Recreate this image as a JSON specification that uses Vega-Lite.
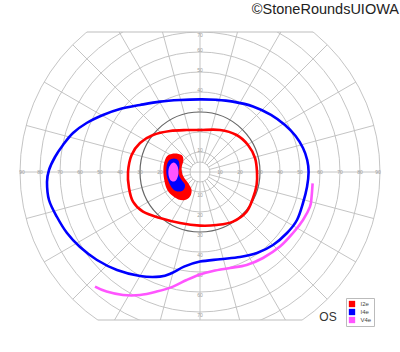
{
  "$schema": "https://vega.github.io/schema/vega-lite/v6.json",
  "width": 400,
  "height": 288,
  "padding": {"top": 32, "bottom": 32, "left": 0, "right": 0},
  "autosize": {"type": "none"},
  "config": {"view": {"stroke": null}, "font": "Liberation Sans"},
  "title": {"text": "©StoneRoundsUIOWA", "anchor": "end", "fontSize": 14.5, "fontWeight": "normal", "color": "#222", "offset": 14, "dx": -1, "font": "Liberation Sans"},
  "datasets": {
    "rings": [{"x":0,"y":0,"r":5},{"x":0,"y":0,"r":10},{"x":0,"y":0,"r":20},{"x":0,"y":0,"r":40},{"x":0,"y":0,"r":50},{"x":0,"y":0,"r":60},{"x":0,"y":0,"r":70},{"x":0,"y":0,"r":80},{"x":0,"y":0,"r":90}],
    "dark": [{"x":0,"y":0,"r":30}],
    "spokes": [
      {"x":-90,"y":0,"x2":90,"y2":0},{"x":0,"y":-90,"x2":0,"y2":90},
      {"x":4.83,"y":1.29,"x2":86.93,"y2":23.29},{"x":4.33,"y":2.5,"x2":77.94,"y2":45},{"x":3.54,"y":3.54,"x2":63.64,"y2":63.64},{"x":2.5,"y":4.33,"x2":45,"y2":77.94},{"x":1.29,"y":4.83,"x2":23.29,"y2":86.93},
      {"x":-4.83,"y":1.29,"x2":-86.93,"y2":23.29},{"x":-4.33,"y":2.5,"x2":-77.94,"y2":45},{"x":-3.54,"y":3.54,"x2":-63.64,"y2":63.64},{"x":-2.5,"y":4.33,"x2":-45,"y2":77.94},{"x":-1.29,"y":4.83,"x2":-23.29,"y2":86.93},
      {"x":-4.83,"y":-1.29,"x2":-86.93,"y2":-23.29},{"x":-4.33,"y":-2.5,"x2":-77.94,"y2":-45},{"x":-3.54,"y":-3.54,"x2":-63.64,"y2":-63.64},{"x":-2.5,"y":-4.33,"x2":-45,"y2":-77.94},{"x":-1.29,"y":-4.83,"x2":-23.29,"y2":-86.93},
      {"x":4.83,"y":-1.29,"x2":86.93,"y2":-23.29},{"x":4.33,"y":-2.5,"x2":77.94,"y2":-45},{"x":3.54,"y":-3.54,"x2":63.64,"y2":-63.64},{"x":2.5,"y":-4.33,"x2":45,"y2":-77.94},{"x":1.29,"y":-4.83,"x2":23.29,"y2":-86.93}
    ],
    "borders": [{"x":-56.6,"y":70,"x2":56.6,"y2":70},{"x":-51.2,"y":-74,"x2":51.2,"y2":-74}],
    "labels": [
      {"x":10,"y":0,"t":"10"},{"x":20,"y":0,"t":"20"},{"x":30,"y":0,"t":"30"},{"x":40,"y":0,"t":"40"},{"x":50,"y":0,"t":"50"},{"x":60,"y":0,"t":"60"},{"x":70,"y":0,"t":"70"},{"x":80,"y":0,"t":"80"},{"x":89,"y":0,"t":"90"},
      {"x":-10,"y":0,"t":"10"},{"x":-20,"y":0,"t":"20"},{"x":-30,"y":0,"t":"30"},{"x":-40,"y":0,"t":"40"},{"x":-50,"y":0,"t":"50"},{"x":-60,"y":0,"t":"60"},{"x":-70,"y":0,"t":"70"},{"x":-80,"y":0,"t":"80"},{"x":-89,"y":0,"t":"90"},
      {"x":0,"y":11,"t":"10"},{"x":0,"y":21,"t":"20"},{"x":0,"y":31,"t":"30"},{"x":0,"y":41,"t":"40"},{"x":0,"y":51,"t":"50"},{"x":0,"y":61,"t":"60"},{"x":0,"y":68.5,"t":"70"},
      {"x":0,"y":-11.5,"t":"10"},{"x":0,"y":-21.5,"t":"20"},{"x":0,"y":-31.5,"t":"30"},{"x":0,"y":-41.5,"t":"40"},{"x":0,"y":-51.5,"t":"50"},{"x":0,"y":-61.5,"t":"60"},{"x":0,"y":-71.5,"t":"70"}
    ],
    "scotoma": [
      {"test":"I2e","i":0,"x":-12.5,"y":9.3},{"test":"I2e","i":1,"x":-9.2,"y":8.5},{"test":"I2e","i":2,"x":-8.3,"y":6},{"test":"I2e","i":3,"x":-9.2,"y":1.8},{"test":"I2e","i":4,"x":-8.3,"y":-2.3},{"test":"I2e","i":5,"x":-5.8,"y":-5.7},{"test":"I2e","i":6,"x":-4.2,"y":-9},{"test":"I2e","i":7,"x":-5,"y":-12.3},{"test":"I2e","i":8,"x":-7.5,"y":-14},{"test":"I2e","i":9,"x":-10.8,"y":-13.7},{"test":"I2e","i":10,"x":-14.2,"y":-11.5},{"test":"I2e","i":11,"x":-16.7,"y":-8.2},{"test":"I2e","i":12,"x":-18,"y":-3.2},{"test":"I2e","i":13,"x":-18.3,"y":1.8},{"test":"I2e","i":14,"x":-17.5,"y":6},{"test":"I2e","i":15,"x":-15.8,"y":8.5},
      {"test":"I4e","i":0,"x":-13,"y":6.8},{"test":"I4e","i":1,"x":-10.8,"y":5.7},{"test":"I4e","i":2,"x":-10.3,"y":2.7},{"test":"I4e","i":3,"x":-10.8,"y":-0.7},{"test":"I4e","i":4,"x":-9.2,"y":-4},{"test":"I4e","i":5,"x":-7.5,"y":-6.5},{"test":"I4e","i":6,"x":-8.3,"y":-9},{"test":"I4e","i":7,"x":-10.8,"y":-9.8},{"test":"I4e","i":8,"x":-13.3,"y":-8.7},{"test":"I4e","i":9,"x":-15.3,"y":-5.7},{"test":"I4e","i":10,"x":-16.7,"y":-1.5},{"test":"I4e","i":11,"x":-16.7,"y":2.7},{"test":"I4e","i":12,"x":-15.5,"y":5.7},
      {"test":"V4e","i":0,"x":-13.3,"y":4.7},{"test":"V4e","i":1,"x":-11.3,"y":3},{"test":"V4e","i":2,"x":-10.8,"y":-0.7},{"test":"V4e","i":3,"x":-11.7,"y":-3.7},{"test":"V4e","i":4,"x":-13.3,"y":-4.8},{"test":"V4e","i":5,"x":-15,"y":-3.7},{"test":"V4e","i":6,"x":-15.8,"y":-0.7},{"test":"V4e","i":7,"x":-15.3,"y":2.7}
    ],
    "closed": [
      {"test":"I2e","i":0,"x":0,"y":21},{"test":"I2e","i":1,"x":10,"y":21},{"test":"I2e","i":2,"x":18.3,"y":18.5},{"test":"I2e","i":3,"x":24,"y":13.5},{"test":"I2e","i":4,"x":27.5,"y":7},{"test":"I2e","i":5,"x":28.5,"y":0},{"test":"I2e","i":6,"x":28.3,"y":-6.5},{"test":"I2e","i":7,"x":26.5,"y":-13},{"test":"I2e","i":8,"x":23.3,"y":-19.8},{"test":"I2e","i":9,"x":16.5,"y":-24.8},{"test":"I2e","i":10,"x":8.3,"y":-26.5},{"test":"I2e","i":11,"x":0,"y":-26.8},{"test":"I2e","i":12,"x":-10,"y":-25.5},{"test":"I2e","i":13,"x":-20,"y":-23},{"test":"I2e","i":14,"x":-28.5,"y":-19.8},{"test":"I2e","i":15,"x":-33.5,"y":-14.8},{"test":"I2e","i":16,"x":-35.5,"y":-8},{"test":"I2e","i":17,"x":-36,"y":0},{"test":"I2e","i":18,"x":-34.2,"y":8.5},{"test":"I2e","i":19,"x":-30,"y":14.5},{"test":"I2e","i":20,"x":-23.5,"y":18.5},{"test":"I2e","i":21,"x":-15,"y":20.5},{"test":"I2e","i":22,"x":-6.7,"y":21},
      {"test":"I4e","i":0,"x":0,"y":36.3},{"test":"I4e","i":1,"x":-10,"y":36},{"test":"I4e","i":2,"x":-20,"y":35.2},{"test":"I4e","i":3,"x":-30,"y":33.5},{"test":"I4e","i":4,"x":-40,"y":31.5},{"test":"I4e","i":5,"x":-48.5,"y":28.5},{"test":"I4e","i":6,"x":-56.7,"y":24.5},{"test":"I4e","i":7,"x":-63.5,"y":19.5},{"test":"I4e","i":8,"x":-68.5,"y":13.5},{"test":"I4e","i":9,"x":-72.5,"y":7.5},{"test":"I4e","i":10,"x":-75.5,"y":1},{"test":"I4e","i":11,"x":-76.5,"y":-5},{"test":"I4e","i":12,"x":-75.5,"y":-14},{"test":"I4e","i":13,"x":-71.5,"y":-22.5},{"test":"I4e","i":14,"x":-66.5,"y":-30.5},{"test":"I4e","i":15,"x":-60,"y":-37.5},{"test":"I4e","i":16,"x":-51.5,"y":-44},{"test":"I4e","i":17,"x":-41.5,"y":-49},{"test":"I4e","i":18,"x":-30,"y":-52},{"test":"I4e","i":19,"x":-20,"y":-52.3},{"test":"I4e","i":20,"x":-14,"y":-50.5},{"test":"I4e","i":21,"x":-8,"y":-47.3},{"test":"I4e","i":22,"x":0,"y":-44.8},{"test":"I4e","i":23,"x":10,"y":-43.6},{"test":"I4e","i":24,"x":20,"y":-42.5},{"test":"I4e","i":25,"x":28.5,"y":-40.5},{"test":"I4e","i":26,"x":36.5,"y":-36.5},{"test":"I4e","i":27,"x":43.5,"y":-30.5},{"test":"I4e","i":28,"x":48.5,"y":-24},{"test":"I4e","i":29,"x":51.5,"y":-15.5},{"test":"I4e","i":30,"x":53.5,"y":-7.5},{"test":"I4e","i":31,"x":54.3,"y":0},{"test":"I4e","i":32,"x":53.6,"y":6},{"test":"I4e","i":33,"x":51.5,"y":12},{"test":"I4e","i":34,"x":47.8,"y":18},{"test":"I4e","i":35,"x":42.5,"y":23.5},{"test":"I4e","i":36,"x":35.5,"y":28.6},{"test":"I4e","i":37,"x":26.5,"y":32.8},{"test":"I4e","i":38,"x":16.5,"y":35.2},{"test":"I4e","i":39,"x":8,"y":36.1}
    ],
    "open": [
      {"test":"V4e","i":0,"x":56.3,"y":-5.7},{"test":"V4e","i":1,"x":55.8,"y":-12.3},{"test":"V4e","i":2,"x":55,"y":-17.3},{"test":"V4e","i":3,"x":51.5,"y":-24},{"test":"V4e","i":4,"x":46.5,"y":-30.5},{"test":"V4e","i":5,"x":40,"y":-37.3},{"test":"V4e","i":6,"x":31.5,"y":-43},{"test":"V4e","i":7,"x":23.3,"y":-46.5},{"test":"V4e","i":8,"x":15,"y":-48},{"test":"V4e","i":9,"x":6.5,"y":-49.5},{"test":"V4e","i":10,"x":0,"y":-51.2},{"test":"V4e","i":11,"x":-6.7,"y":-54},{"test":"V4e","i":12,"x":-13.5,"y":-57.3},{"test":"V4e","i":13,"x":-21.7,"y":-59.8},{"test":"V4e","i":14,"x":-30,"y":-61.5},{"test":"V4e","i":15,"x":-38.5,"y":-61.5},{"test":"V4e","i":16,"x":-46.7,"y":-59.8},{"test":"V4e","i":17,"x":-52.5,"y":-57.3}
    ],
    "eye": [{"x":64,"y":-72.3,"t":"OS"}]
  },
  "encoding": {
    "x": {"field": "x", "type": "quantitative", "scale": {"domain": [-100, 100], "nice": false, "zero": false}, "axis": null},
    "y": {"field": "y", "type": "quantitative", "scale": {"domain": [-74, 70], "nice": false, "zero": false}, "axis": null}
  },
  "layer": [
    {
      "data": {"name": "rings"},
      "mark": {"type": "point", "shape": "circle", "filled": false, "stroke": "#bdbdbd", "strokeWidth": 0.9, "opacity": 1, "clip": true},
      "encoding": {"size": {"field": "r", "type": "quantitative", "scale": {"type": "pow", "exponent": 2, "domain": [0, 90], "range": [0, 129600]}, "legend": null}}
    },
    {
      "data": {"name": "spokes"},
      "mark": {"type": "rule", "stroke": "#bdbdbd", "strokeWidth": 0.9, "clip": true},
      "encoding": {"x2": {"field": "x2"}, "y2": {"field": "y2"}}
    },
    {
      "data": {"name": "borders"},
      "mark": {"type": "rule", "stroke": "#bdbdbd", "strokeWidth": 1.2},
      "encoding": {"x2": {"field": "x2"}, "y2": {"field": "y2"}}
    },
    {
      "data": {"name": "dark"},
      "mark": {"type": "point", "shape": "circle", "filled": false, "stroke": "#666666", "strokeWidth": 1.2, "opacity": 1, "clip": true},
      "encoding": {"size": {"field": "r", "type": "quantitative", "scale": {"type": "pow", "exponent": 2, "domain": [0, 90], "range": [0, 129600]}, "legend": null}}
    },
    {
      "data": {"name": "labels"},
      "mark": {"type": "text", "fontSize": 5, "fill": "#a0a0a0", "align": "center", "baseline": "middle"},
      "encoding": {"text": {"field": "t"}}
    },
    {
      "data": {"name": "scotoma"},
      "mark": {"type": "line", "filled": true, "interpolate": "cardinal-closed", "opacity": 1},
      "encoding": {
        "order": {"field": "i"},
        "color": {"field": "test", "type": "nominal", "scale": {"domain": ["I2e", "I4e", "V4e"], "range": ["#ff0000", "#0000ff", "#ff55ff"]},
          "legend": {"orient": "none", "legendX": 346, "legendY": 266, "title": null, "symbolType": "square", "symbolSize": 40, "symbolStrokeWidth": 0, "labelFontSize": 6, "labelColor": "#444", "labelOffset": 5, "strokeColor": "#bbbbbb", "fillColor": "white", "padding": 2.5, "rowPadding": 1, "labelLimit": 40}}
      }
    },
    {
      "data": {"name": "closed"},
      "mark": {"type": "line", "interpolate": "cardinal-closed", "strokeWidth": 2.6},
      "encoding": {
        "order": {"field": "i"},
        "color": {"field": "test", "type": "nominal", "scale": {"domain": ["I2e", "I4e", "V4e"], "range": ["#ff0000", "#0000ff", "#ff55ff"]}}
      }
    },
    {
      "data": {"name": "open"},
      "mark": {"type": "line", "interpolate": "cardinal", "strokeWidth": 2.6},
      "encoding": {
        "order": {"field": "i"},
        "color": {"field": "test", "type": "nominal", "scale": {"domain": ["I2e", "I4e", "V4e"], "range": ["#ff0000", "#0000ff", "#ff55ff"]}}
      }
    },
    {
      "data": {"name": "eye"},
      "mark": {"type": "text", "fontSize": 12, "fill": "#333", "align": "center", "baseline": "middle"},
      "encoding": {"text": {"field": "t"}}
    }
  ]
}
